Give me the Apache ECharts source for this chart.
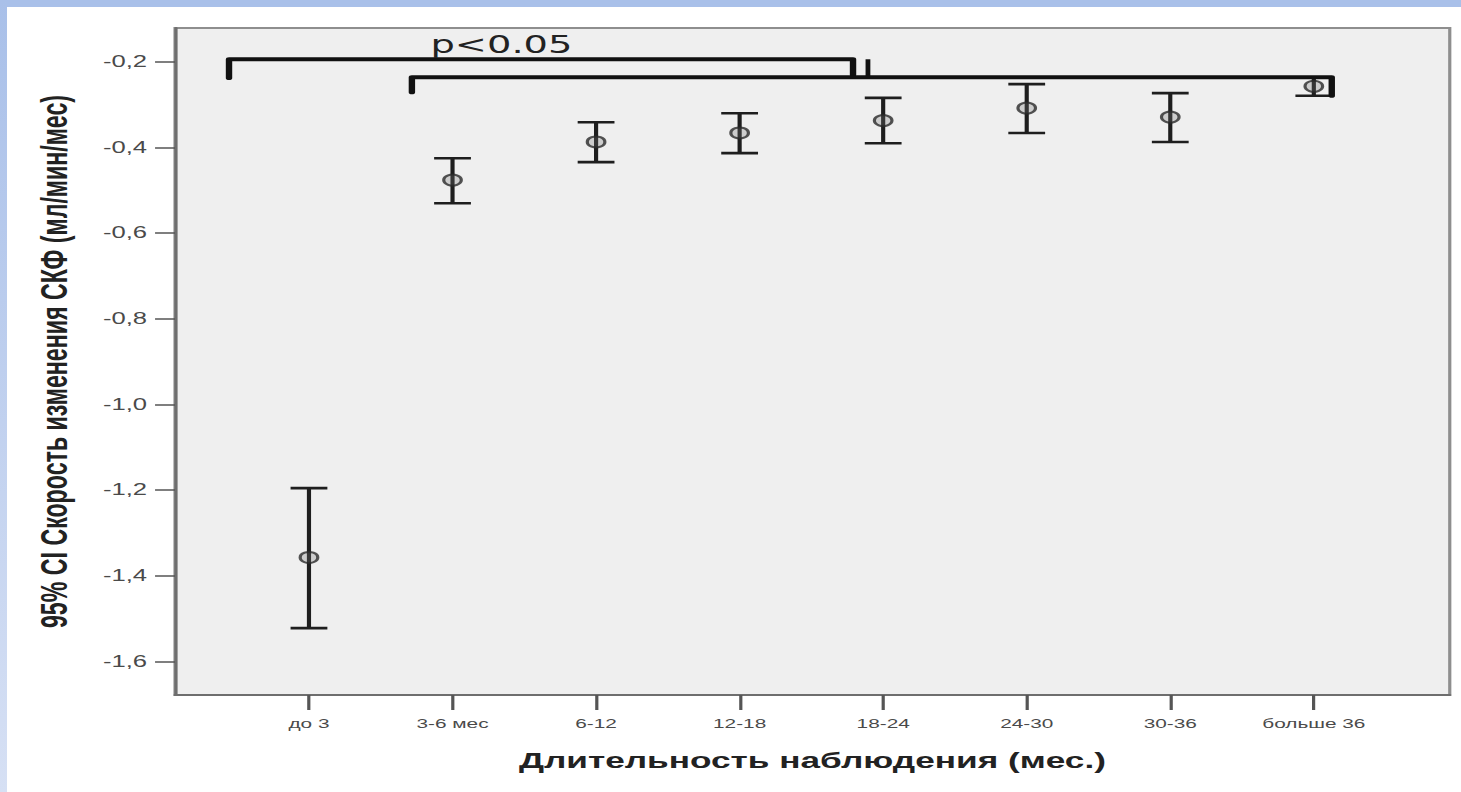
<!DOCTYPE html>
<html><head><meta charset="utf-8">
<script src="https://cdn.jsdelivr.net/npm/echarts@6/dist/echarts.min.js"></script>
<style>
html,body{margin:0;padding:0;width:1461px;height:792px;overflow:hidden;background:#fff;}
#topband{position:absolute;left:0;top:0;width:1461px;height:7px;background:#a9c0e9;}
#leftband{position:absolute;left:0;top:0;width:7px;height:792px;background:linear-gradient(#a9c0e9,#d6e0f4);}
#chart{position:absolute;left:0;top:0;width:913.125px;height:792px;transform:scaleX(1.6);transform-origin:0 0;}
</style></head><body>
<div id="topband"></div><div id="leftband"></div>
<div id="chart"></div>
<script>
// ---- data ----
const categories = ['до 3', '3-6 мес', '6-12', '12-18', '18-24', '24-30', '30-36', 'больше 36'];
const means = [-1.357, -0.476, -0.387, -0.366, -0.337, -0.308, -0.329, -0.257];
const upper = [-1.195, -0.425, -0.341, -0.320, -0.284, -0.252, -0.273, -0.236];
const lower = [-1.522, -0.530, -0.434, -0.413, -0.390, -0.366, -0.387, -0.279];
const yTicks = [-1.6, -1.4, -1.2, -1.0, -0.8, -0.6, -0.4, -0.2];
const xTicks = [1, 2, 3, 4, 5, 6, 7, 8];
const xTitle = 'Длительность наблюдения (мес.)';
const yTitle = '95% CI Скорость изменения СКФ (мл/мин/мес)';
// significance brackets (data units): start x, end x, line y, left leg end y, right leg end y
const bracketStart = [0.443, 1.717];
const bracketEnd = [4.79, 8.125];
const bracketLevel = [-0.194, -0.236];
const bracketLeftLeg = [-0.238, -0.271];
const bracketRightLeg = [-0.231, -0.279];
// extra short vertical stroke next to first bracket end: x, y top, y bottom
const extraMark = [4.894, -0.194, -0.236];
const pLabel = 'p<0.05';
const pLabelPos = [2.341, -0.161];

const FONT = '"Liberation Sans", Arial, sans-serif';
const chart = echarts.init(document.getElementById('chart'), null, {renderer: 'svg'});

const barData = xTicks.map((x, i) => [x, lower[i], upper[i]]);
const meanData = xTicks.map((x, i) => [x, means[i]]);
const bracketData = bracketStart.map((s, i) => [s, bracketEnd[i], bracketLevel[i], bracketLeftLeg[i], bracketRightLeg[i]]);

chart.setOption({
  animation: false,
  grid: {left: 109.4, right: 6.9, top: 28, bottom: 97, show: true,
    backgroundColor: '#efefef', borderColor: '#8e8e8e', borderWidth: 2},
  xAxis: {
    type: 'value', min: 0.067, max: 8.947,
    axisLine: {show: true, onZero: false, lineStyle: {color: '#6e6e6e', width: 2}},
    axisTick: {show: true, length: 15, customValues: xTicks, lineStyle: {color: '#555', width: 2}},
    axisLabel: {customValues: xTicks, formatter: v => categories[Math.round(v) - 1],
      fontSize: 13, color: '#4a4a4a', margin: 22, fontFamily: FONT},
    splitLine: {show: false},
    name: xTitle, nameLocation: 'middle', nameGap: 54,
    nameTextStyle: {fontSize: 22, fontWeight: 'bold', color: '#222', fontFamily: FONT}
  },
  yAxis: {
    type: 'value', min: -1.678, max: -0.121,
    axisLine: {show: true, onZero: false, lineStyle: {color: '#6e6e6e', width: 2}},
    axisTick: {show: true, length: 12.5, customValues: yTicks, lineStyle: {color: '#555', width: 1.5}},
    axisLabel: {customValues: yTicks, formatter: v => v.toFixed(1).replace('.', ','),
      fontSize: 16, color: '#4a4a4a', margin: 17.5, fontFamily: FONT},
    splitLine: {show: false},
    name: yTitle, nameLocation: 'middle', nameGap: 64, nameRotate: 90,
    nameTextStyle: {fontSize: 23.2, fontWeight: 'bold', color: '#222', fontFamily: FONT}
  },
  series: [
    {
      type: 'custom', name: 'ci', data: barData, z: 3, silent: true,
      renderItem: (params, api) => {
        const x = api.value(0);
        const lo = api.coord([x, api.value(1)]);
        const hi = api.coord([x, api.value(2)]);
        const hw = 11.5;
        const st = {stroke: '#1e1e1e', lineWidth: 2.6};
        return {type: 'group', children: [
          {type: 'line', shape: {x1: lo[0], y1: lo[1], x2: hi[0], y2: hi[1]}, style: st},
          {type: 'line', shape: {x1: lo[0] - hw, y1: lo[1], x2: lo[0] + hw, y2: lo[1]}, style: st},
          {type: 'line', shape: {x1: hi[0] - hw, y1: hi[1], x2: hi[0] + hw, y2: hi[1]}, style: st}
        ]};
      }
    },
    {
      type: 'scatter', name: 'mean', data: meanData, z: 4, silent: true,
      symbol: 'circle', symbolSize: 11,
      itemStyle: {color: 'rgba(120,120,120,0.35)', borderColor: '#2a2a2a', borderWidth: 2}
    },
    {
      type: 'custom', name: 'brackets', data: bracketData, z: 5, silent: true,
      renderItem: (params, api) => {
        const a = api.coord([api.value(0), api.value(3)]);
        const b = api.coord([api.value(0), api.value(2)]);
        const c = api.coord([api.value(1), api.value(2)]);
        const d = api.coord([api.value(1), api.value(4)]);
        return {type: 'polyline', shape: {points: [a, b, c, d]},
          style: {stroke: '#111', lineWidth: 4, fill: null, lineJoin: 'round', lineCap: 'round'}};
      }
    },
    {
      type: 'custom', name: 'mark', data: [extraMark], z: 5, silent: true,
      renderItem: (params, api) => {
        const t = api.coord([api.value(0), api.value(1)]);
        const b = api.coord([api.value(0), api.value(2)]);
        return {type: 'line', shape: {x1: t[0], y1: t[1], x2: b[0], y2: b[1]},
          style: {stroke: '#111', lineWidth: 3}};
      }
    },
    {
      type: 'custom', name: 'pval', data: [pLabelPos], z: 6, silent: true,
      renderItem: (params, api) => {
        const p = api.coord([api.value(0), api.value(1)]);
        return {type: 'text', x: p[0], y: p[1],
          style: {text: pLabel, fill: '#222', font: '24px "DejaVu Sans", sans-serif',
            align: 'center', verticalAlign: 'middle'}};
      }
    }
  ]
});
</script>
</body></html>
